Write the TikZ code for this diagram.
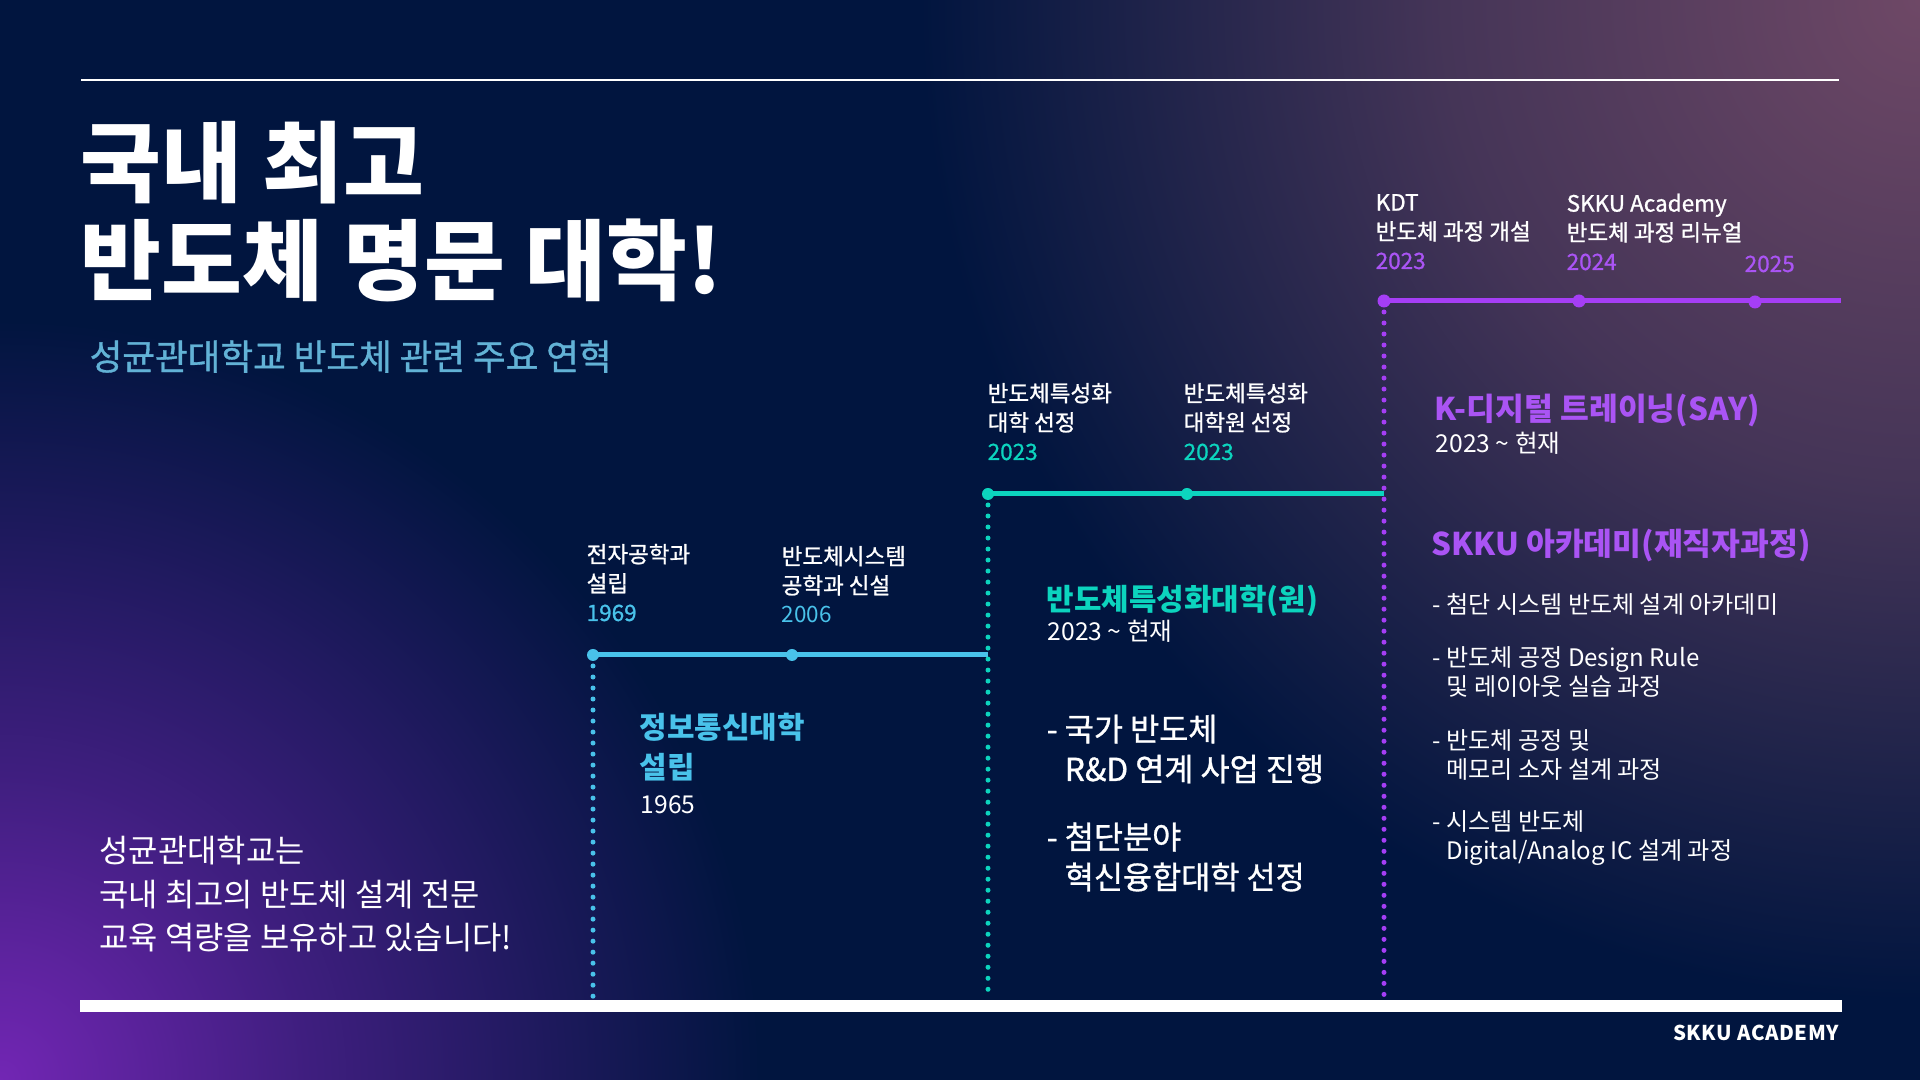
\documentclass[tikz,border=0pt]{standalone}
\usepackage{fontspec}
\setmainfont{Noto Sans CJK KR}
\newfontfamily\semifont{Noto Sans CJK KR}[FakeBold=1.0]
\usepackage{tikz}
\usetikzlibrary{backgrounds, calc}
\usepackage{xcolor}

\definecolor{navybg}{RGB}{1,21,63}
\definecolor{glowpurple}{RGB}{114,38,180}
\definecolor{glowmauve}{RGB}{110,72,102}
\colorlet{glowpurplemid}{glowpurple!55!navybg}
\colorlet{glowmauvemid}{glowmauve!62!navybg}
\definecolor{lineblue}{RGB}{73,194,234}
\definecolor{subblue}{RGB}{98,178,214}
\definecolor{lineteal}{RGB}{12,212,190}
\definecolor{linepurple}{RGB}{165,62,245}
\definecolor{textpurple}{RGB}{170,84,244}

\pgfdeclareradialshading{glowleft}{\pgfpoint{0bp}{0bp}}{color(0bp)=(glowpurple); color(10bp)=(glowpurplemid); color(25bp)=(navybg); color(50bp)=(navybg)}
\pgfdeclareradialshading{glowright}{\pgfpoint{0bp}{0bp}}{color(0bp)=(glowmauve); color(12bp)=(glowmauvemid); color(25bp)=(navybg); color(50bp)=(navybg)}

\begin{document}
\begin{tikzpicture}[x=0.01cm, y=-0.01cm,
    track/.style={line width=0.05cm},
    drop/.style={line width=0.05cm, line cap=round, dash pattern=on 0pt off 0.11cm},
    txt/.style={anchor=base west, inner sep=0pt, align=left, text=white},
    lbl/.style={txt, font=\semifont\fontsize{6.4pt}{8.3pt}\selectfont},
    period/.style={txt, font=\fontsize{7pt}{8pt}\selectfont},
    head/.style={txt, font=\bfseries\fontsize{8.9pt}{11.4pt}\selectfont},
    item/.style={txt, font=\fontsize{6.85pt}{8.5pt}\selectfont},
    bullet/.style={txt, font=\semifont\fontsize{9pt}{11.4pt}\selectfont}]

    \useasboundingbox (0,0) rectangle (1920,1080);

    % background and corner glows
    \begin{scope}
        \clip (0,0) rectangle (1920,1080);
        \fill [navybg] (0,0) rectangle (1920,1080);
        \shade [shading=glowright] (1920,0) circle (10cm);
        \shade [shading=glowleft] (0,1080) circle (7.6cm);
    \end{scope}

    \coordinate (ruleL) at (81,80);
    \coordinate (ruleR) at (1839,80);
    \coordinate (barL) at (80,1000);
    \coordinate (barR) at (1842,1012);
    \coordinate (barTop) at (960,1000);

    \coordinate (blueA) at (593,655);
    \coordinate (blueB) at (792,655);
    \coordinate (tealA) at (988,494);
    \coordinate (tealB) at (1187,494);
    \coordinate (purpA) at (1384,301);
    \coordinate (purpB) at (1579,301);
    \coordinate (purpC) at (1755,302);
    \coordinate (purpEnd) at (1841,301);

    \draw [white, line width=0.5pt] (ruleL) -- (ruleR);
    \fill [white] (barL) rectangle (barR);

    % timelines
    \draw [track, lineblue] (blueA) -- (tealA |- blueA);
    \draw [track, lineteal] (tealA) -- (purpA |- tealA);
    \draw [track, linepurple] (purpA) -- (purpEnd);

    \draw [drop, lineblue] (blueA) -- (blueA |- barTop);
    \draw [drop, lineteal] (tealA) -- (tealA |- barTop);
    \draw [drop, linepurple] (purpA) -- (purpA |- barTop);

    \foreach \p in {blueA, blueB} \fill [lineblue] (\p) circle (0.06cm);
    \foreach \p in {tealA, tealB} \fill [lineteal] (\p) circle (0.06cm);
    \foreach \p in {purpA, purpB, purpC} \fill [linepurple] (\p) circle (0.065cm);

    % title block (multi-line nodes sit on their last baseline)
    \node [txt, font=\bfseries\fontsize{25pt}{27.9pt}\selectfont] (title) at (80,294) {국내 최고\\반도체 명문 대학!};
    \node [txt, text=subblue, font=\semifont\fontsize{10.1pt}{11pt}\selectfont] (subtitle) at (89,370) {성균관대학교 반도체 관련 주요 연혁};
    \node [txt, font=\fontsize{9.05pt}{12.5pt}\selectfont] (leadText) at (99,950) {성균관대학교는\\국내 최고의 반도체 설계 전문\\교육 역량을 보유하고 있습니다!};

    % milestone labels
    \node [lbl] (lblElec) at (586,621) {전자공학과\\설립\\\textcolor{lineblue}{1969}};
    \node [lbl] (lblSys) at (781,623) {반도체시스템\\공학과 신설\\\textcolor{lineblue}{\rmfamily 2006}};
    \node [lbl] (lblUniv) at (987,460) {반도체특성화\\대학 선정\\\textcolor{lineteal}{2023}};
    \node [lbl] (lblGrad) at (1183,460) {반도체특성화\\대학원 선정\\\textcolor{lineteal}{2023}};
    \node [lbl] (lblKdt) at (1375,269) {KDT\\반도체 과정 개설\\\textcolor{textpurple}{2023}};
    \node [lbl] (lblAcad) at (1566,270) {SKKU Academy\\반도체 과정 리뉴얼\\\textcolor{textpurple}{2024}};
    \node [lbl, text=textpurple] (lblNext) at (1744,272) {2025};

    % blue column
    \node [head, text=lineblue, font=\bfseries\fontsize{8.5pt}{11.4pt}\selectfont] (infoHead) at (639,779) {정보통신대학\\설립};
    \node [period] (infoYear) at (640,814) {1965};

    % teal column
    \node [head, text=lineteal, font=\bfseries\fontsize{8.5pt}{11pt}\selectfont] (tealHead) at (1046,611) {반도체특성화대학(원)};
    \node [period] (tealYear) at (1047,641) {2023 \textasciitilde\ 현재};
    \node [bullet] (tealItemA) at (1046,781) {- 국가 반도체\\\phantom{- }R\&D 연계 사업 진행};
    \node [bullet] (tealItemB) at (1046,889) {- 첨단분야\\\phantom{- }혁신융합대학 선정};

    % purple column
    \node [head, text=textpurple] (kdtHead) at (1434,421) {K-디지털 트레이닝(SAY)};
    \node [period] (kdtYear) at (1435,453) {2023 \textasciitilde\ 현재};
    \node [head, text=textpurple] (acadHead) at (1431,556) {SKKU 아카데미(재직자과정)};
    \node [item] (acadItemA) at (1432,614) {- 첨단 시스템 반도체 설계 아카데미};
    \node [item] (acadItemB) at (1432,696) {- 반도체 공정 Design Rule\\\phantom{- }및 레이아웃 실습 과정};
    \node [item] (acadItemC) at (1432,779) {- 반도체 공정 및\\\phantom{- }메모리 소자 설계 과정};
    \node [item] (acadItemD) at (1432,860) {- 시스템 반도체\\\phantom{- }Digital/Analog IC 설계 과정};

    \node [anchor=base east, inner sep=0pt, text=white, font=\bfseries\fontsize{5.8pt}{7pt}\selectfont\addfontfeature{LetterSpace=3}] (brand) at (1840,1041) {SKKU ACADEMY};

\end{tikzpicture}
\end{document}
